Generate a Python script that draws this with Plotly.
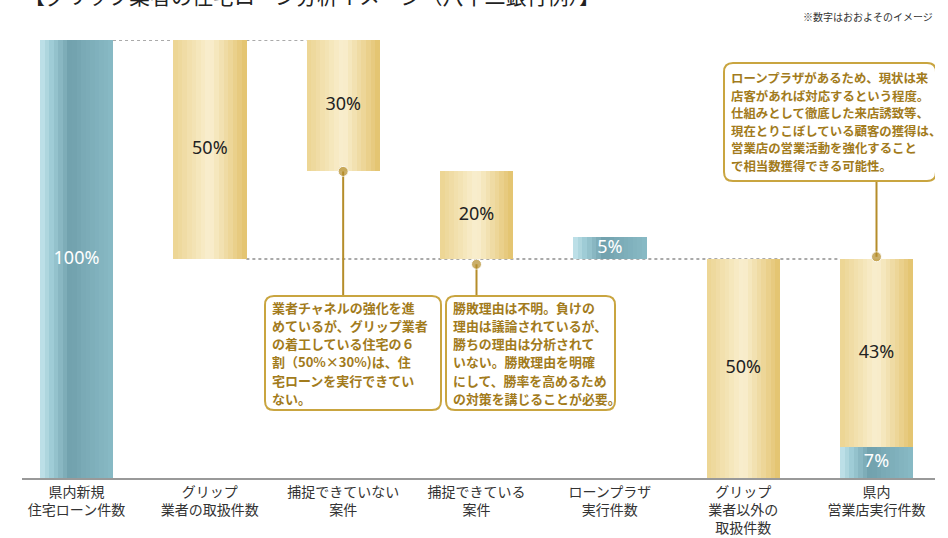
import plotly.graph_objects as go

# ---------------- data ----------------
categories = ["県内新規<br>住宅ローン件数", "グリップ<br>業者の取扱件数", "捕捉できていない<br>案件",
              "捕捉できている<br>案件", "ローンプラザ<br>実行件数", "グリップ<br>業者以外の<br>取扱件数",
              "県内<br>営業店実行件数"]
values = [100, 50, 30, 20, 5, 50]          # share of each step (%)
bases = [0, 50, 70, 50, 50, 0]             # floating base of each step (%)
branch_other = 43                          # 県内営業店実行件数: upper part
branch_loan = 7                            # 県内営業店実行件数: lower part
value_labels = ["100%", "50%", "30%", "20%", "5%", "50%"]
branch_labels = ["43%", "7%"]
teal_steps = [0, 4]                        # steps drawn in teal

title_text = "【グリップ業者の住宅ローン分析イメージ（八十二銀行例）】"
note_text = "※数字はおおよそのイメージ"
comment1 = ["業者チャネルの強化を進", "めているが、グリップ業者", "の着工している住宅の６",
            "割（50%×30%)は、住", "宅ローンを実行できてい", "ない。"]
comment2 = ["勝敗理由は不明。負けの", "理由は議論されているが、", "勝ちの理由は分析されて",
            "いない。勝敗理由を明確", "にして、勝率を高めるため", "の対策を講じることが必要。"]
comment3 = ["ローンプラザがあるため、現状は来", "店客があれば対応するという程度。",
            "仕組みとして徹底した来店誘致等、", "現在とりこぼしている顧客の獲得は、",
            "営業店の営業活動を強化すること", "で相当数獲得できる可能性。"]

# ---------------- helpers ----------------
XPX0, XS = 76.5, 133.333   # pixel of category 0, px per category
YPX0, YS = 478.0, 4.38     # pixel of 0 %, px per %


def dx(px):
    return (px - XPX0) / XS


def dy(py):
    return (YPX0 - py) / YS


def lerp_stops(stops, t):
    for (t0, c0), (t1, c1) in zip(stops[:-1], stops[1:]):
        if t0 <= t <= t1:
            f = (t - t0) / (t1 - t0) if t1 > t0 else 0
            return "rgb(%d,%d,%d)" % tuple(round(a + (b - a) * f) for a, b in zip(c0, c1))
    return "rgb(%d,%d,%d)" % stops[-1][1]


TEAL = [(0.0, (196, 228, 235)), (0.15, (160, 205, 215)), (0.42, (112, 160, 172)),
        (0.6, (122, 170, 182)), (1.0, (136, 186, 197))]
GOLD = [(0.0, (236, 212, 145)), (0.5, (249, 239, 208)), (1.0, (227, 194, 108))]

BAR_W = 0.548
N = 16
sw = BAR_W / N

teal_x, teal_y, teal_b = [], [], []
gold_x, gold_y, gold_b = [], [], []
for i, (v, b) in enumerate(zip(values, bases)):
    if i in teal_steps:
        teal_x.append(categories[i]); teal_y.append(v); teal_b.append(b)
    else:
        gold_x.append(categories[i]); gold_y.append(v); gold_b.append(b)
teal_x.append(categories[6]); teal_y.append(branch_loan); teal_b.append(0)
gold_x.append(categories[6]); gold_y.append(branch_other); gold_b.append(branch_loan)

fig = go.Figure()
for k in range(N):
    t = (k + 0.5) / N
    off = -BAR_W / 2 + k * sw
    for xs, ys, bs, stops in ((teal_x, teal_y, teal_b, TEAL), (gold_x, gold_y, gold_b, GOLD)):
        fig.add_trace(go.Bar(x=xs, y=ys, base=bs, width=sw * 1.08, offset=off,
                             marker=dict(color=lerp_stops(stops, t), line=dict(width=0)),
                             hoverinfo="skip", showlegend=False))

# value labels
lab_x, lab_y, lab_t, lab_c = [], [], [], []
for i, (v, b) in enumerate(zip(values, bases)):
    lab_x.append(categories[i])
    lab_y.append(b + v / 2)
    lab_t.append(value_labels[i])
    lab_c.append("white" if i in teal_steps else "#222222")
lab_x += [categories[6], categories[6]]
lab_y += [branch_loan + branch_other / 2, branch_loan / 2]
lab_t += branch_labels
lab_c += ["#222222", "white"]
fig.add_trace(go.Scatter(x=lab_x, y=lab_y, mode="text", text=lab_t,
                         textfont=dict(family="Noto Sans, sans-serif", size=18, color=lab_c),
                         hoverinfo="skip", showlegend=False))

# dotted connector lines
DOT = dict(color="#aaaaaa", width=2, dash="dot")
hw = BAR_W / 2
fig.add_shape(type="line", x0=0 + hw, x1=1 - hw, y0=values[0], y1=values[0], line=DOT, layer="below")
fig.add_shape(type="line", x0=1 + hw, x1=2 - hw, y0=values[0], y1=values[0], line=DOT, layer="below")
fig.add_shape(type="line", x0=1 + hw, x1=6 - hw, y0=bases[1], y1=bases[1], line=DOT, layer="below")

# comment boxes
BOX = "#c9a540"
TXT = "#a27b1c"


def rounded(x0p, y0p, x1p, y1p, r=9):
    x0, x1 = dx(x0p), dx(x1p)
    yt, yb = dy(y0p), dy(y1p)
    rx, ry = r / XS, r / YS
    return (f"M {x0+rx},{yt} L {x1-rx},{yt} Q {x1},{yt} {x1},{yt-ry} L {x1},{yb+ry} "
            f"Q {x1},{yb} {x1-rx},{yb} L {x0+rx},{yb} Q {x0},{yb} {x0},{yb+ry} "
            f"L {x0},{yt-ry} Q {x0},{yt} {x0+rx},{yt} Z")


boxes = [((265, 296, 441, 410), comment1, 13.0, 18.3, 11),
         ((446, 296, 615, 410), comment2, 12.9, 18.3, 11),
         ((724, 63, 936, 181), comment3, 12.4, 17.5, 15)]
for (x0p, y0p, x1p, y1p), lines, fs, lh, first in boxes:
    fig.add_shape(type="path", path=rounded(x0p, y0p, x1p, y1p), xref="x", yref="y",
                  line=dict(color=BOX, width=2), fillcolor="white", layer="above")
    for j, ln in enumerate(lines):
        fig.add_annotation(x=dx(x0p + 5), y=dy(y0p + first + j * lh), xref="x", yref="y",
                           text="<b>" + ln + "</b>",
                           showarrow=False, xanchor="left", yanchor="middle", align="left",
                           font=dict(family="Noto Sans CJK JP", size=fs, color=TXT))

# leader lines with dots
LEAD = "#b58d2a"
leaders = [(2, bases[2], dy(296)), (3, bases[3] - 1.2, dy(296)), (6, bases[1] + 0.5, dy(181))]
for ci, y_dot, y_end in leaders:
    fig.add_trace(go.Scatter(x=[categories[ci], categories[ci]], y=[y_dot, y_end], mode="lines+markers",
                             line=dict(color=LEAD, width=2),
                             marker=dict(size=[10, 0], color=LEAD),
                             hoverinfo="skip", showlegend=False, cliponaxis=False))

# title (cut off at the top) and note
fig.add_annotation(x=0, y=(YPX0 - (-5)) / 438, xref="paper", yref="paper", text=title_text,
                   showarrow=False, xanchor="left", yanchor="middle",
                   font=dict(family="Noto Sans CJK JP", size=21, color="#222222"))
fig.add_annotation(x=1.0, y=(YPX0 - 16) / 438, xref="paper", yref="paper", text=note_text,
                   showarrow=False, xanchor="right", yanchor="middle",
                   font=dict(family="Noto Sans CJK JP", size=10, color="#333333"))

fig.update_layout(
    width=948, height=538,
    margin=dict(l=22, r=13, t=40, b=60, autoexpand=False),
    paper_bgcolor="white", plot_bgcolor="white",
    barmode="overlay", bargap=0,
    xaxis=dict(type="category", categoryorder="array", categoryarray=categories,
               range=[dx(22), dx(935)], showgrid=False, zeroline=False, automargin=False,
               showline=True, linecolor="#999999", linewidth=1.5, ticks="",
               tickfont=dict(family="Noto Sans CJK JP", size=14, color="#333333"), fixedrange=True),
    yaxis=dict(range=[0, 100], visible=False, showgrid=False, fixedrange=True, automargin=False),
    showlegend=False,
)

fig.write_html("out.html")
